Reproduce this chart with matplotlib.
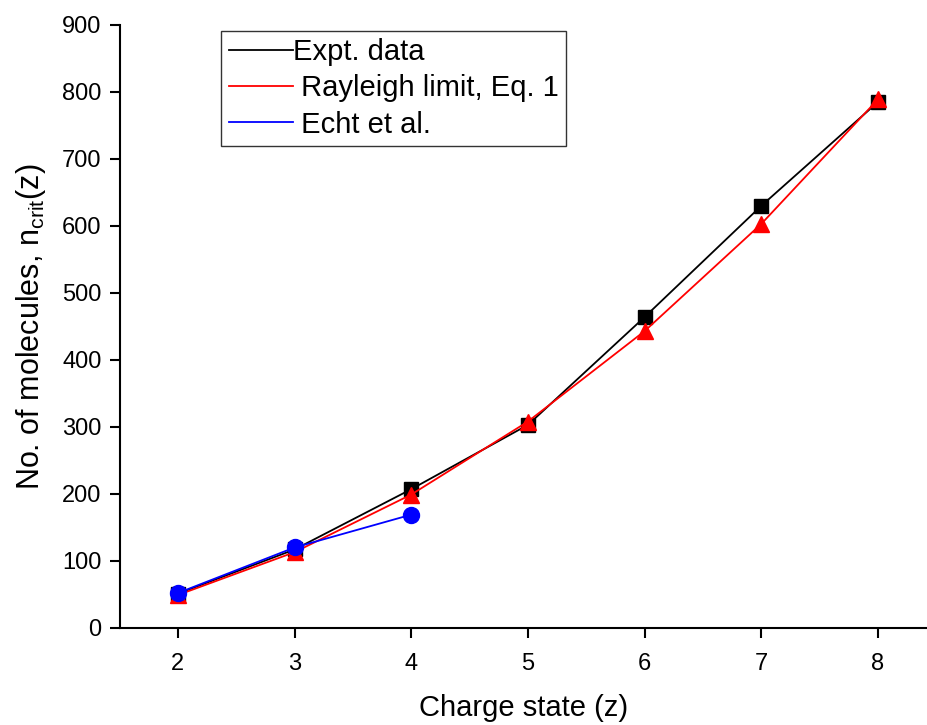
import matplotlib
matplotlib.use("Agg")
import matplotlib.pyplot as plt
from matplotlib.lines import Line2D

plt.rcParams['font.family'] = ['Liberation Sans', 'DejaVu Sans']

# data
z_expt = [2, 3, 4, 5, 6, 7, 8]
n_expt = [51, 117, 207, 303, 464, 630, 785]
z_rayleigh = [2, 3, 4, 5, 6, 7, 8]
n_rayleigh = [49, 113, 199, 308, 443, 603, 789]
z_echt = [2, 3, 4]
n_echt = [52, 120, 169]

fig = plt.figure(figsize=(9.27, 7.25), dpi=100)
ax = fig.add_axes([0.129, 0.134, 0.871, 0.8316])

ax.plot(z_expt, n_expt, 'k-', marker='s', markersize=10.5, lw=1.3)
ax.plot(z_rayleigh, n_rayleigh, '-', color='red', marker='^', markersize=12, lw=1.3)
ax.plot(z_echt, n_echt, '-', color='blue', marker='o', markersize=11.5, lw=1.3)

ax.set_xlim(1.5, 8.42)
ax.set_ylim(0, 900)
ax.set_xticks([2, 3, 4, 5, 6, 7, 8])
ax.set_yticks(range(0, 901, 100))
ax.spines['top'].set_visible(False)
ax.spines['right'].set_visible(False)
ax.spines['left'].set_linewidth(1.5)
ax.spines['bottom'].set_linewidth(1.5)
ax.tick_params(direction='out', length=7, width=1.5, labelsize=17)
ax.tick_params(axis='x', pad=11)
ax.tick_params(axis='y', pad=6)

ax.set_xlabel('Charge state (z)', fontsize=21, labelpad=14)
ax.set_ylabel(r'No. of molecules, n$_{\mathregular{crit}}$(z)', fontsize=22, labelpad=10)

handles = [Line2D([], [], color='black', lw=1.3),
           Line2D([], [], color='red', lw=1.3),
           Line2D([], [], color='blue', lw=1.3)]
leg = ax.legend(handles, ['Expt. data', ' Rayleigh limit, Eq. 1', ' Echt et al.'],
                loc='upper left', bbox_to_anchor=(0.126, 0.99), fontsize=21,
                frameon=True, fancybox=False, handlelength=2.2, handletextpad=0.0,
                borderpad=0.25, labelspacing=0.28, borderaxespad=0)
leg.get_frame().set_edgecolor('black')
leg.get_frame().set_linewidth(1.0)

fig.savefig('out.png', dpi=100)
